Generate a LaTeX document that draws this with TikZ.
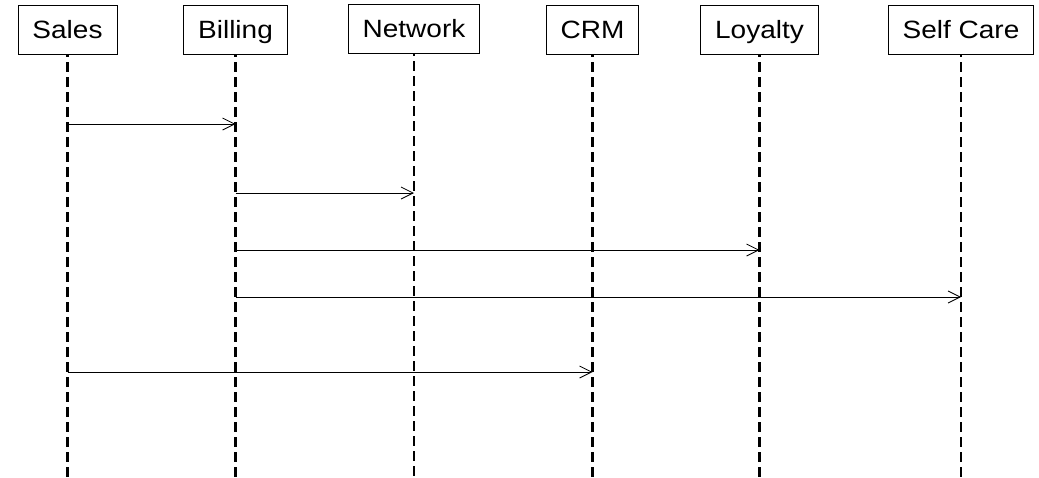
\documentclass[tikz,border=0pt]{standalone}
\usepackage{fontspec}
\setmainfont{Liberation Sans}[FakeStretch=1.12]
\usepackage{tikz}
\usetikzlibrary{arrows.meta,positioning}

\begin{document}
\begin{tikzpicture}[x=1pt,y=-1pt,
                          box/.style={draw, line width=0.8pt, font=\fontsize{25}{30}\selectfont,
                                      minimum height=49pt, inner xsep=14.5pt, inner ysep=0pt,
                                      text height=18pt, text depth=0pt},
                          life/.style={line width=2.2pt, dash pattern=on 10pt off 5pt, dash phase=7pt},
                          msg/.style={line width=0.8pt, -{Straight Barb[length=12pt,width=12pt,line width=0.8pt]}},
                         ]

\useasboundingbox (0,0) rectangle (1039,477);

\coordinate (bottom) at (0,477);

% participants
\node[box] (sales)    at (67.5,29.5) {Sales};
\node[box] (billing)  at (235.5,29.5) {Billing};
\node[box] (network)  at (414,28.5) {Network};
\node[box] (crm)      at (592.5,29.5) {CRM};
\node[box] (loyalty)  at (759.5,29.5) {Loyalty};
\node[box] (selfcare) at (961,29.5) {Self Care};

% lifelines
\draw[life] (sales.south) -- (sales.south |- bottom);
\draw[life] (billing.south) -- (billing.south |- bottom);
\draw[life] (network.south) -- (network.south |- bottom);
\draw[life] (crm.south) -- (crm.south |- bottom);
\draw[life] (loyalty.south) -- (loyalty.south |- bottom);
\draw[life] (selfcare.south) -- (selfcare.south |- bottom);

% messages
\draw[msg] (sales |- 0,124) -- (billing |- 0,124);
\draw[msg] (billing |- 0,193) -- (network |- 0,193);
\draw[msg] (billing |- 0,250) -- (loyalty |- 0,250);
\draw[msg] (billing |- 0,297) -- (selfcare |- 0,297);
\draw[msg] (sales |- 0,372) -- (crm |- 0,372);

\end{tikzpicture}
\end{document}
